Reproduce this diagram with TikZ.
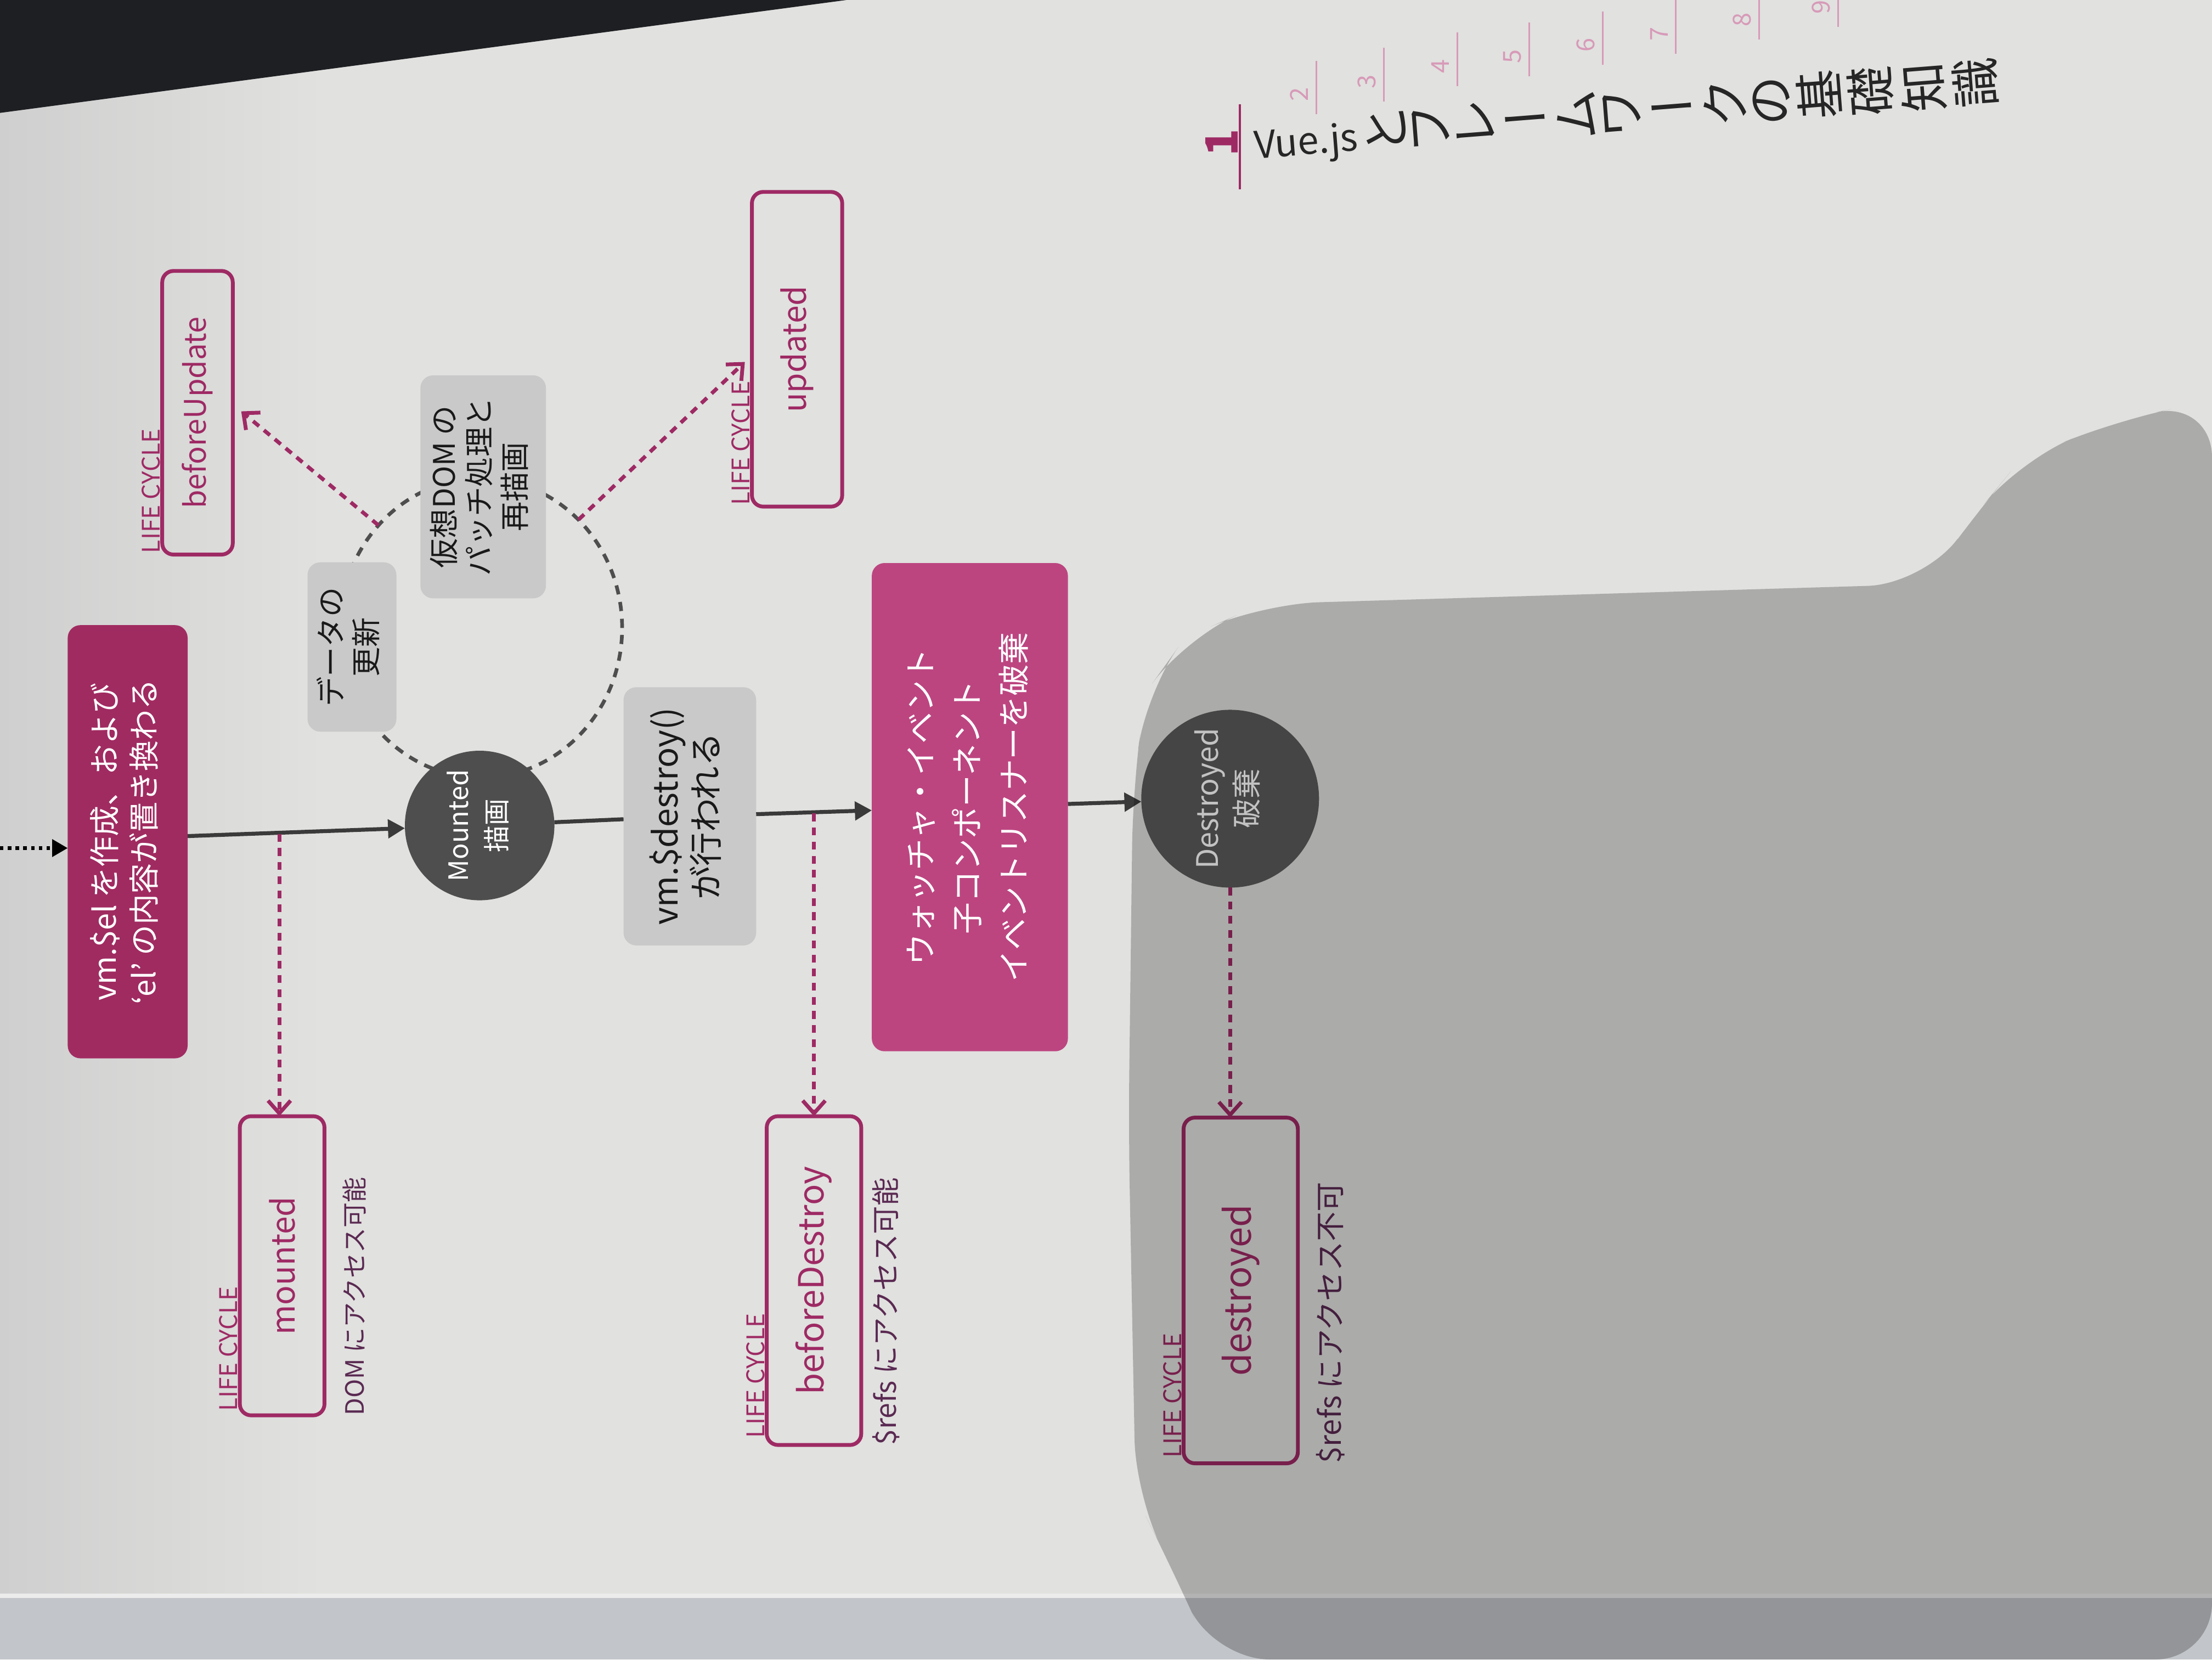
\documentclass[tikz,border=0pt]{standalone}
\usepackage{fontspec}
\setmainfont{Noto Sans CJK JP}
\usetikzlibrary{shapes.geometric, arrows.meta, calc}

\definecolor{cPaper}{HTML}{E1E1DF}
\definecolor{cEdge}{HTML}{CFCFCF}
\definecolor{cDesk}{HTML}{1E1F23}
\definecolor{cStack}{HTML}{C2C5C9}
\definecolor{cMag}{HTML}{9E2A64}
\definecolor{cMagA}{HTML}{A02B61}
\definecolor{cMagB}{HTML}{BC4580}
\definecolor{cBox}{HTML}{C9C9C9}
\definecolor{cDisc}{HTML}{4E4E4E}
\definecolor{cDiscB}{HTML}{5C5C5C}
\definecolor{cWire}{HTML}{3A3A3A}
\definecolor{cNote}{HTML}{5A2A52}
\definecolor{cTab}{HTML}{D79AB8}

\newcommand{\fsz}[2]{\fontsize{#1}{#2}\selectfont}
\newcommand{\rlines}[1]{\rotatebox{90}{\begin{tabular}{@{}c@{}}#1\end{tabular}}}
% one upright character of the vertical margin title, turned with the page
\newcommand{\vc}[1]{\rotatebox[origin=c]{90}{#1}\hspace{0.5mm}}
\newcommand{\vbar}{ー\hspace{0.5mm}}

\tikzset{
  every node/.style={inner sep=0pt, outer sep=0pt},
  flow/.style={draw=cWire, line width=0.28mm, -{Triangle[length=1.2mm,width=1.3mm]}},
  plainwire/.style={draw=cWire, line width=0.28mm},
  entry/.style={draw=black, line width=0.25mm, dash pattern=on 0.25mm off 0.3mm, -{Triangle[length=1.1mm,width=1.2mm]}},
  hookline/.style={draw=cMag, line width=0.27mm, dash pattern=on 0.55mm off 0.45mm, -{Straight Barb[length=0.9mm,width=1.6mm]}},
  ring/.style={draw=cDisc, line width=0.26mm, dash pattern=on 0.65mm off 0.55mm},
  lifebox/.style={draw=cMag, line width=0.27mm, rounded corners=0.8mm, text=cMag},
  graybox/.style={fill=cBox, rounded corners=0.9mm, text=black!90},
  pinkbox/.style={rounded corners=0.9mm, text=white},
  disc/.style={circle, fill=cDisc, text=white},
  lc/.style={rotate=90, text=cMag, font=\fsz{4.9}{5.2}},
  note/.style={rotate=90, text=cNote},
}

\begin{document}
\begin{tikzpicture}[x=0.1mm, y=-0.1mm]
\useasboundingbox (0,0) rectangle (1568,1176);

% paper, darker page edges and the desk corner
\fill[cPaper] (0,0) rectangle (1568,1176);
\shade[left color=cEdge, right color=cPaper] (0,0) rectangle (230,1132);
\fill[cStack] (0,1132) rectangle (1568,1176);
\draw[white!85!gray, line width=0.3mm] (0,1131) -- (1568,1131);
\fill[cDesk] (0,0) -- (600,0) -- (0,80) -- cycle;

% update cycle ring
\node[ellipse, ring, minimum width=20mm, minimum height=21.2mm] (cyc) at (341,445) {};

% main flow
\node[pinkbox, fill=cMagA, minimum width=8.5mm, minimum height=30.7mm, font=\fsz{6.2}{8}] (vmel) at (90.5,596.5)
  {\rlines{vm.\$el を作成、および\\`el' の内容が置き換わる}};
\node[disc, minimum size=10.6mm, font=\fsz{5.4}{7.7}] (mounted) at (340,585) {\rlines{Mounted\\描画}};
\node[graybox, minimum width=6.3mm, minimum height=12mm, font=\fsz{6}{6.9}] (datab) at (249.5,458.5) {\rlines{データの\\更新}};
\node[graybox, minimum width=8.9mm, minimum height=15.8mm, font=\fsz{6}{7.1}] (vdom) at (342.5,345) {\rlines{仮想DOM の\\パッチ処理と\\再描画}};
\node[graybox, minimum width=9.4mm, minimum height=18.3mm, font=\fsz{6.8}{7.8}] (vmd) at (489,578.5) {\rlines{vm.\$destroy()\\が行われる}};
\node[pinkbox, fill=cMagB, minimum width=13.9mm, minimum height=34.6mm, font=\fsz{6.4}{9.4}] (watcher) at (687.5,572)
  {\rlines{ウォッチャ・イベント\\子コンポーネント\\イベントリスナーを破棄}};
\node[disc, fill=cDiscB, minimum size=12.6mm, font=\fsz{6}{8}] (dest) at (872,566) {\rlines{Destroyed\\破棄}};

% lifecycle hooks
\node[lifebox, minimum width=5mm, minimum height=20.1mm, font=\fsz{6}{7}] (bu) at (140,292.5) {\rotatebox{90}{beforeUpdate}};
\node[lifebox, minimum width=6.4mm, minimum height=22.3mm, font=\fsz{6.5}{7}] (upd) at (565,247.5) {\rotatebox{90}{updated}};
\node[lifebox, minimum width=6mm, minimum height=21.2mm, font=\fsz{6.5}{7}] (mh) at (200,897) {\rotatebox{90}{mounted}};
\node[lifebox, minimum width=6.7mm, minimum height=23.3mm, font=\fsz{7}{8}] (bd) at (577,907.5) {\rotatebox{90}{beforeDestroy}};
\node[lifebox, minimum width=8.1mm, minimum height=24.5mm, font=\fsz{7.4}{8}] (dd) at (879.5,914.5) {\rotatebox{90}{destroyed}};

\node[lc, anchor=south west] (lcbu) at ($(bu.south west)+(-1.5,-1)$) {LIFE CYCLE};
\node[lc, anchor=south west] (lcupd) at ($(upd.south west)+(-1.5,-1)$) {LIFE CYCLE};
\node[lc, anchor=south west] (lcmh) at ($(mh.south west)+(-1.5,-3)$) {LIFE CYCLE};
\node[lc, anchor=south west] (lcbd) at ($(bd.south west)+(-1.5,-5)$) {LIFE CYCLE};
\node[lc, anchor=south west] (lcdd) at ($(dd.south west)+(-1.5,-4)$) {LIFE CYCLE};

\node[note, anchor=north west, font=\fsz{5.1}{6}] (nmh) at ($(mh.south east)+(13,0)$) {DOM にアクセス可能};
\node[note, anchor=north west, font=\fsz{5.7}{6}] (nbd) at ($(bd.south east)+(8,0)$) {\$refs にアクセス可能};
\node[note, anchor=north west, font=\fsz{6}{6.5}] (ndd) at ($(dd.south east)+(13,0)$) {\$refs にアクセス不可};

% connectors
\coordinate (in0) at (0,601);
\draw[entry] (in0) -- (in0 -| vmel.west);
\draw[flow] ($(vmel.east)+(0,-4)$) -- (mounted);
\draw[plainwire] (mounted) -- (vmd);
\draw[flow] (vmd) -- (watcher);
\draw[flow] (watcher) -- (dest);

\coordinate (h1) at (198,591);
\coordinate (h2) at (577,576.5);
\draw[hookline] (h1) -- (h1 |- mh.north);
\draw[hookline] (h2) -- (h2 |- bd.north);
\draw[hookline] (dest.south) -- (dest.south |- dd.north);
\draw[hookline] (cyc.135) -- ($(bu.east)+(6,-1)$);
\draw[hookline] (cyc.48) -- ($(upd.west)+(-5,9)$);

% chapter index in the margin
\node[text=cMag, rotate=90, font=\fsz{9}{9}\bfseries] (chap) at (866,101) {1};
\draw[cMag, line width=0.15mm] (879,74) -- (879,134);
\foreach \n/\x/\y in {2/921/67, 3/969/58, 4/1021/47, 5/1072/40, 6/1124/32, 7/1176/24, 8/1235/14, 9/1291/5} {
  \node[text=cTab, rotate=90, font=\fsz{5}{5}] (tab\n) at (\x,\y) {\n};
  \draw[cTab, line width=0.12mm] (\x+12,\y+14) -- (\x+12,\y-24);
}
\node[anchor=west, rotate=4.5, text=black!85, font=\fsz{10}{11}] (title) at (889,100)
  {{\fsz{7.6}{8}Vue.js}\hspace{0.6mm}\vc{と}\vc{フ}\vc{レ}\vbar\vc{ム}\vc{ワ}\vbar\vc{ク}\vc{の}\vc{基}\vc{礎}\vc{知}\vc{識}};

% hand shadow falling over the right half of the page
\fill[black, opacity=0.24, rounded corners=4mm] (803,560) -- (812,491) -- (840,452) -- (895,428) -- (1364,414) -- (1400,365) -- (1432,326) -- (1500,298) -- (1568,284) -- (1568,1176) -- (860,1176) -- (830,1110) -- (805,1060) -- (800,800) -- cycle;
\end{tikzpicture}
\end{document}
